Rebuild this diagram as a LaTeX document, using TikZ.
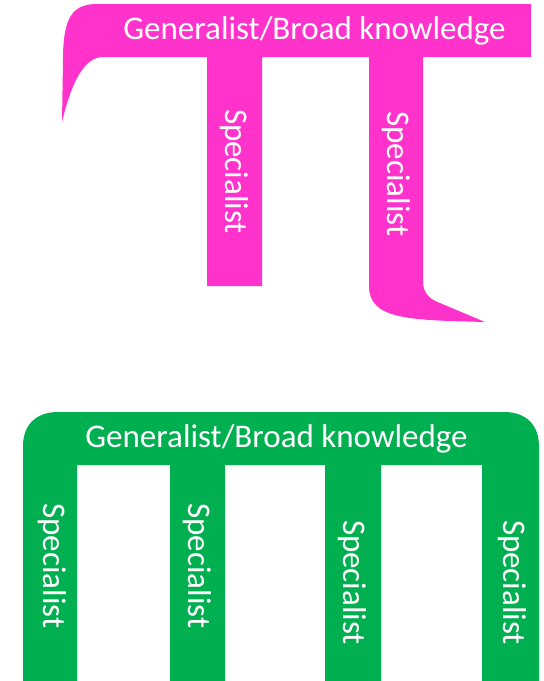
\documentclass[tikz,border=0pt]{standalone}
\usepackage{fontspec}
\setmainfont{Carlito}
\definecolor{pimag}{HTML}{FF33CC}
\definecolor{combgreen}{HTML}{00B050}

\begin{document}
\begin{tikzpicture}[x=1pt, y=-1pt,
  lbl/.style={text=white, inner sep=0pt, font=\fontsize{33}{40}\selectfont},
  speclbl/.style={lbl, rotate=-90}]
  % 枠
  \useasboundingbox (0,0) rectangle (544,681);

  % π型(上)
  \fill[pimag] (95,4) -- (531,4) -- (531,57) -- (423,57) -- (423,281)
    .. controls (423,293) and (429,299) .. (440,303) -- (485,322)
    .. controls (410,320) and (369,320) .. (369,286) -- (369,57)
    -- (262,57) -- (262,286) -- (207,286) -- (207,57) -- (103,57)
    .. controls (85,57) and (72,80) .. (62,122)
    -- (63,60) .. controls (63,18) and (72,4) .. (97,4) -- cycle;

  % ラベル
  \node[lbl, anchor=base] (pitop) at (314.5,39) {Generalist/Broad knowledge};
  \node[speclbl] (pileft) at (234.5,171.5) {Specialist};
  \node[speclbl] (piright) at (396,174) {Specialist};

  % くし型(下)
  \fill[combgreen] (23,681) -- (23,446) .. controls (23,425) and (36,412) .. (58,412)
    -- (504,412) .. controls (526,412) and (539,425) .. (539,446) -- (539,681)
    -- (482,681) -- (482,465) -- (381,465) -- (381,681) -- (325,681)
    -- (325,465) -- (225,465) -- (225,681) -- (170,681) -- (170,465)
    -- (77,465) -- (77,681) -- cycle;

  % ラベル
  \node[lbl, anchor=base] (combtop) at (276.5,447) {Generalist/Broad knowledge};
  \node[speclbl] (comb1) at (52,566) {Specialist};
  \node[speclbl] (comb2) at (197,566) {Specialist};
  \node[speclbl] (comb3) at (352,582.5) {Specialist};
  \node[speclbl] (comb4) at (512,582.5) {Specialist};
\end{tikzpicture}
\end{document}
